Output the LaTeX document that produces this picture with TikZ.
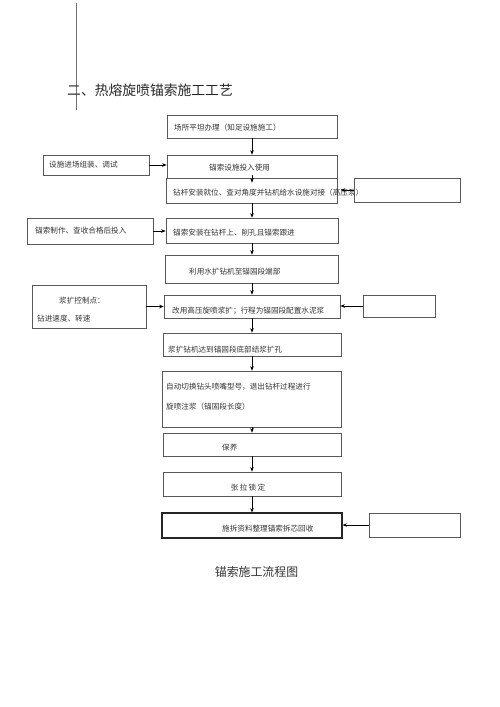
\documentclass[tikz,border=0pt]{standalone}
\usepackage{fontspec}
\setmainfont{Liberation Serif}
\newfontfamily\cjk{Noto Sans CJK SC}
\usetikzlibrary{arrows.meta}
\tikzset{
  box/.style={draw=black!65, line width=0.6pt, inner sep=0pt},
  txt/.style={inner sep=0pt, anchor=west, text=black!80, font=\cjk\fontsize{7.6}{9}\selectfont},
  arr/.style={-{Stealth[length=4.5pt,width=3.5pt]}, line width=0.7pt}
}

\begin{document}
\begin{tikzpicture}[x=1pt,y=-1pt]
			%%%%% START %%%%%
			\useasboundingbox (0,0) rectangle (500,707);
			
			\draw[black!55, line width=0.5pt] (76,3) -- (76,110);
			\node[inner sep=0pt, anchor=west, font=\cjk\fontsize{13.8}{16}\selectfont, text=black!85] (title) at (67,90) {二、热熔旋喷锚索施工工艺};
			
			% main column
			\node[box, minimum width=170pt, minimum height=23pt] (b1) at (252,126.5) {};
			\node[box, minimum width=170pt, minimum height=23pt] (b2) at (252,166.5) {};
			\node[box, minimum width=171pt, minimum height=25pt] (b3) at (252,190.5) {};
			\node[box, minimum width=172pt, minimum height=25pt] (b4) at (252,230.5) {};
			\node[box, minimum width=173pt, minimum height=28pt] (b5) at (252,269) {};
			\node[box, minimum width=176pt, minimum height=23pt] (b6) at (252,306.5) {};
			\node[box, minimum width=178pt, minimum height=23pt] (b7) at (252,344.5) {};
			\node[box, minimum width=179pt, minimum height=56pt] (b8) at (252,399) {};
			\node[box, minimum width=178pt, minimum height=23pt] (b9) at (252,444.5) {};
			\node[box, minimum width=178pt, minimum height=24pt] (b10) at (252,484) {};
			\node[box, draw=black!85, line width=1.1pt, minimum width=180pt, minimum height=25pt] (b11) at (252,525.5) {};
			
			\node[txt] (t1) at (174,128) {场所平坦办理（知足设施施工）};
			\node[txt] (t2) at (209,168) {锚索设施投入使用};
			\node[txt] (t3) at (173,193) {钻杆安装就位、查对角度并钻机给水设施对接（高压泵）};
			\node[txt] (t4) at (173,233) {锚索安装在钻杆上、削孔且锚索跟进};
			\node[txt] (t5) at (189,272) {利用水扩钻机至锚固段端部};
			\node[txt] (t6) at (172,311) {改用高压旋喷浆扩；行程为锚固段配置水泥浆};
			\node[txt] (t7) at (168,350) {浆扩钻机达到锚固段底部结浆扩孔};
			\node[txt] (t8a) at (166,387) {自动切换钻头喷嘴型号，退出钻杆过程进行};
			\node[txt] (t8b) at (166,407) {旋喷注浆（锚固段长度）};
			\node[txt] (t9) at (222,448) {保养};
			\node[txt, anchor=center] (t10) at (248,488) {张\,拉\,锁\,定};
			\node[txt] (t11) at (222,529) {施拆资料整理锚索拆芯回收};
			
			% side boxes
			\node[box, minimum width=106pt, minimum height=20pt] (l1) at (96,165) {};
			\node[box, minimum width=126pt, minimum height=26pt] (l2) at (90,231) {};
			\node[box, minimum width=114pt, minimum height=43pt] (l3) at (89,306.5) {};
			\node[txt] (tl1) at (49,165) {设施进场组装、调试};
			\node[txt] (tl2) at (35,231) {锚索制作、查收合格后投入};
			\node[txt] (tl3a) at (59,301) {浆扩控制点：};
			\node[txt] (tl3b) at (37,319) {钻进速度、转速};
			
			\node[box, minimum width=106pt, minimum height=24pt] (r1) at (407,190) {};
			\node[box, minimum width=72pt, minimum height=22pt] (r2) at (399,306) {};
			\node[box, minimum width=91pt, minimum height=24pt] (r3) at (414.5,525) {};
			
			% arrows down
			\draw[arr] (b1.south) -- (b2.north);
			\draw[arr] ([yshift=3pt]b2.south) -- ([yshift=-5pt]b3.north);
			\foreach \a/\b in {b3/b4,b4/b5,b5/b6,b6/b7,b7/b8,b8/b9,b9/b10,b10/b11}
				\draw[arr] (\a.south) -- (\b.north);
			
			% arrows from the sides
			\draw[arr] (l1.east) -- (l1.east -| b2.west);
			\draw[arr] (l2.east) -- (l2.east -| b4.west);
			\draw[arr] (l3.east) -- (l3.east -| b6.west);
			\draw[arr] (r1.west) -- ([xshift=3pt]r1.west -| b3.east);
			\draw[arr] (r2.west) -- (r2.west -| b6.east);
			\draw[arr] (r3.west) -- (r3.west -| b11.east);
			
			\node[inner sep=0pt, font=\cjk\fontsize{11.9}{14}\selectfont, text=black!80] (cap) at (256.5,572) {锚索施工流程图};
			%%%%% END %%%%%
\end{tikzpicture}
\end{document}
